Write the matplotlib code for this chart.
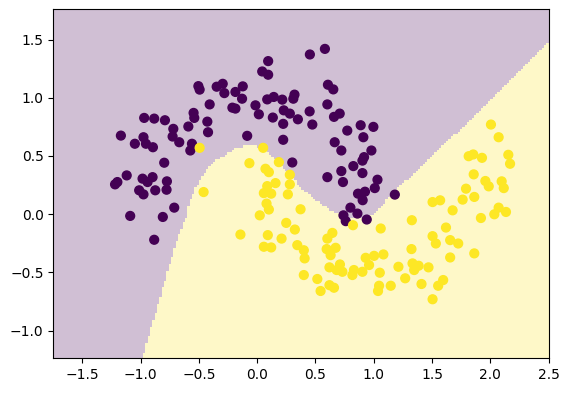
import matplotlib
matplotlib.use("Agg")
import matplotlib.pyplot as plt
import numpy as np

# points of class 0 (upper moon)
x0 = [-0.505, -0.494, -0.348, -0.296, -0.282, -0.408, -0.97, -0.884, -0.792, -0.546,
      -0.54, -0.428, -0.72, -0.591, -0.422, -1.17, -0.976, -1.05, -0.955, -0.895,
      -0.726, -0.669, -0.56, -0.574, -0.798, -1.12, -1.2, -1.22, -0.984, -0.898,
      -0.941, -0.775, -0.778, -1.013, -0.976, -0.875, -0.712, -1.09, -0.81, -0.884,
      0.452, 0.581, 0.094, 0.043, 0.094, -0.187, -0.124, -0.13, -0.213, -0.187,
      -0.015, 0.014, 0.086, 0.142, 0.215, 0.32, 0.31, 0.228, 0.28, 0.134,
      0.223, 0.349, 0.45, 0.473, 0.607, 0.653, 0.602, 0.659, 0.708, 0.888,
      0.997, -0.086, 0.223, 0.665, 0.773, 0.722, 0.911, 0.98, 0.917, 0.903,
      0.825, 0.903, 0.722, 0.736, 0.602, 0.301, 1.032, 1.009, 0.865, 0.925,
      0.905, 0.8, 0.86, 0.74, 0.76, 0.94, 1.181]
y0 = [1.10, 1.07, 1.095, 1.12, 1.04, 0.943, 0.827, 0.821, 0.807, 0.87,
      0.827, 0.795, 0.733, 0.753, 0.704, 0.675, 0.661, 0.605, 0.605, 0.575,
      0.667, 0.618, 0.605, 0.547, 0.442, 0.333, 0.276, 0.256, 0.305, 0.318,
      0.276, 0.282, 0.21, 0.205, 0.17, 0.205, 0.056, -0.015, -0.024, -0.22,
      1.372, 1.42, 1.315, 1.226, 1.198, 1.05, 1.098, 0.992, 0.915, 0.907,
      0.935, 0.858, 0.986, 1.007, 0.984, 1.027, 0.992, 0.892, 0.864, 0.83,
      0.776, 0.815, 0.883, 0.77, 1.112, 1.072, 0.943, 0.836, 0.864, 0.764,
      0.75, 0.673, 0.639, 0.618, 0.718, 0.547, 0.661, 0.547, 0.49, 0.46,
      0.413, 0.353, 0.37, 0.276, 0.318, 0.444, 0.296, 0.224, 0.176, 0.193,
      0.12, 0.056, 0.005, -0.01, -0.06, -0.046, 0.168]

# points of class 1 (lower moon)
x1 = [-0.494, -0.46, 0.051, -0.067, 0.186, 0.071, 0.1, 0.28, 0.28, 0.157,
      0.086, 0.057, 0.12, 0.263, 0.08, 0.1, 0.022, 0.372, 0.249, 0.323,
      0.645, 0.602, -0.144, 0.091, 0.209, 0.822, 1.06, 0.057, 0.12, 0.344,
      0.4, 0.407, 0.596, 0.673, 0.63, 0.62, 0.71, 0.682, 0.731, 0.83,
      0.817, 0.903, 0.931, 0.96, 1.003, 1.083, 1.052, 1.046, 1.037, 1.146,
      0.4, 0.516, 0.544, 0.62, 0.659, 1.505, 1.533, 1.656, 1.725, 1.863,
      1.656, 1.324, 1.212, 1.333, 1.385, 1.347, 1.47, 1.27, 1.41, 1.596,
      1.553, 1.505, 2.006, 2.072, 1.815, 1.854, 1.929, 2.155, 2.17, 1.858,
      1.958, 1.987, 2.098, 2.116, 1.792, 1.863, 1.763, 1.505, 1.57, 1.677,
      2.072, 2.035, 2.135, 1.92, 1.327, 1.62]
y1 = [0.57, 0.19, 0.57, 0.438, 0.447, 0.39, 0.361, 0.339, 0.256, 0.267,
      0.241, 0.181, 0.176, 0.17, 0.091, 0.04, -0.01, 0.042, -0.075, -0.132,
      -0.161, -0.21, -0.175, -0.18, -0.21, -0.095, -0.123, -0.28, -0.286, -0.266,
      -0.31, -0.38, -0.3, -0.289, -0.352, -0.457, -0.432, -0.48, -0.495, -0.48,
      -0.523, -0.495, -0.375, -0.437, -0.358, -0.346, -0.503, -0.615, -0.66, -0.615,
      -0.523, -0.557, -0.66, -0.61, -0.632, -0.189, -0.252, -0.223, -0.252, -0.337,
      -0.372, -0.3, -0.452, -0.423, -0.443, -0.48, -0.457, -0.551, -0.6, -0.566,
      -0.615, -0.731, 0.77, 0.661, 0.498, 0.513, 0.484, 0.51, 0.433, 0.342,
      0.285, 0.239, 0.282, 0.224, 0.219, 0.148, 0.125, 0.104, 0.119, 0.033,
      0.056, -0.001, 0.019, -0.033, -0.052, -0.115]

# decision boundary (class 1 below it)
bound_x = [-0.99, -0.677, -0.617, -0.583, -0.525, -0.44, -0.368, -0.282, -0.202, -0.086,
           0.0, 0.086, 0.172, 0.258, 0.372, 0.487, 0.602, 0.688, 0.774, 0.92,
           1.0, 1.146, 1.82, 2.5]
bound_y = [-1.25, -0.181, -0.052, 0.09, 0.233, 0.376, 0.461, 0.496, 0.562, 0.59,
           0.581, 0.532, 0.461, 0.361, 0.233, 0.133, 0.056, 0.005, -0.024, -0.04,
           0.0, 0.162, 0.804, 1.48]

x_min, x_max = -1.75, 2.5
y_min, y_max = -1.24, 1.76

fig = plt.figure(figsize=(5.70, 3.93), dpi=100)
ax = fig.add_axes([0.0935, 0.0878, 0.8688, 0.8885])

# background regions on a coarse mesh
h = 0.02
xx, yy = np.meshgrid(np.arange(x_min, x_max + h, h), np.arange(y_min, y_max + h, h))
edge = np.interp(xx, bound_x, bound_y, left=-5.0)
Z = (yy < edge).astype(float)
ax.pcolormesh(xx, yy, Z, cmap="viridis", vmin=0, vmax=1, alpha=0.25, shading="auto")

X = np.concatenate([x0, x1])
Y = np.concatenate([y0, y1])
labels = np.concatenate([np.zeros(len(x0)), np.ones(len(x1))])
ax.scatter(X, Y, c=labels, cmap="viridis", s=40)

ax.set_xlim(x_min, x_max)
ax.set_ylim(y_min, y_max)

fig.savefig("out.png", dpi=100)
